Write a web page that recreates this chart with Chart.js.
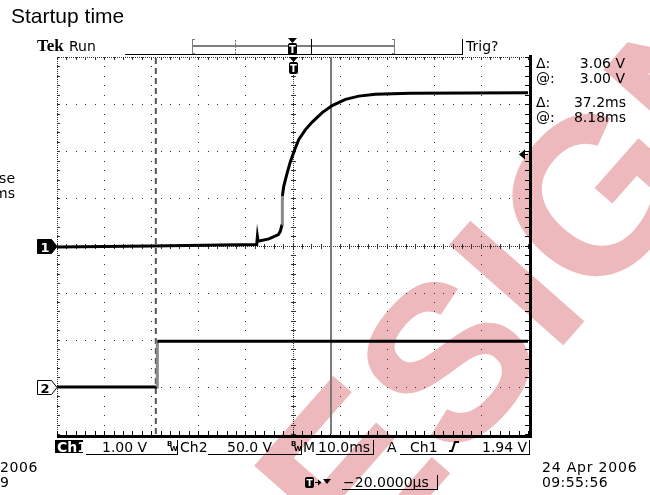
<!DOCTYPE html>
<html>
<head>
<meta charset="utf-8">
<script src="https://cdn.jsdelivr.net/npm/chart.js@4.4.0/dist/chart.umd.min.js"></script>
<style>
body{margin:0;background:#fff}
#wrap{width:650px;height:495px}
</style>
</head>
<body>
<div id="wrap"><canvas id="scope" width="650" height="495"></canvas></div>
<script>
// time in ms (trigger at 0), 10 ms/div
const ch1Time  = [-50, -30, -7.6, -7.45, -7.3, -5.0, -3.0, -2.6, -2.2, -2.15, -1.85, -1.13, -0.42, 0.49, 1.34, 2.76, 4.18, 6.31, 8.43, 11.25, 14.08, 17.6, 25, 50]
const ch1Volts = [-0.03, -0.01, 0.02, 0.19, 0.09, 0.14, 0.23, 0.30, 0.45, 1.05, 1.26, 1.54, 1.79, 2.04, 2.25, 2.46, 2.62, 2.82, 2.97, 3.10, 3.17, 3.21, 3.23, 3.24]
const ch2Time  = [-50, -28.75, -28.7, 50]
const ch2Volts = [0, 0, 48.3, 48.3]

const voltsPerDiv = [1.0, 50.0]   // Ch1, Ch2
const groundDiv = [0, -3]          // ground marker position in divisions
const cursorTimes = [-29.02, 8.18]
const triggerLevel = 1.94

const toDiv = (v, ch) => v / voltsPerDiv[ch] + groundDiv[ch]
const pts = (ts, vs, ch) => ts.map((t, i) => ({x: t, y: toDiv(vs[i], ch)}))

// fast edges show up lighter on the scope
const steep = c => {
    const dx = Math.abs(c.p1.x - c.p0.x), dy = Math.abs(c.p1.y - c.p0.y)
    return (dy > dx * 6 && dy > 12) ? '#8a8a8a' : undefined
}

const watermark = {
    id: 'watermark',
    beforeDraw(chart) {
        const ctx = chart.ctx
        ctx.save()
        ctx.fillStyle = '#fff'
        ctx.fillRect(0, 0, chart.width, chart.height)
        ctx.translate(253, 697)
        ctx.rotate(-48.6 * Math.PI / 180)
        ctx.font = 'bold 221px "Liberation Sans"'
        ctx.fillStyle = '#edb9bc'
        ctx.textBaseline = 'alphabetic'
        ctx.fillText('DESIGN', 0, 0)
        ctx.restore()
    }
}

const graticule = {
    id: 'graticule',
    beforeDatasetsDraw(chart) {
        const {ctx, scales: {x, y}} = chart
        const X = v => Math.round(x.getPixelForValue(v))
        const Y = v => Math.round(y.getPixelForValue(v))
        ctx.save()
        ctx.fillStyle = '#333'
        // interior division lines, dots every 1/5 div
        for (let i = -4; i <= 4; i++) {
            if (i === 0) continue
            const px = X(i * 10)
            for (let j = 0; j <= 40; j++) ctx.fillRect(px, Y(-4 + j * 0.2), 1, 1)
        }
        for (let i = -3; i <= 3; i++) {
            if (i === 0) continue
            const py = Y(i)
            for (let j = 0; j <= 50; j++) ctx.fillRect(X(-50 + j * 2), py, 1, 1)
        }
        // centre axes, fine dots + ticks
        const cx = X(0), cy = Y(0)
        for (let p = Y(4); p <= Y(-4); p += 2) ctx.fillRect(cx, p, 1, 1)
        for (let p = X(-50); p <= X(50); p += 2) ctx.fillRect(p, cy, 1, 1)
        for (let j = 0; j <= 40; j++) ctx.fillRect(cx - 2, Y(-4 + j * 0.2), 5, 1)
        for (let j = 0; j <= 50; j++) ctx.fillRect(X(-50 + j * 2), cy - 2, 1, 5)
        // top + left edges dotted with inward ticks
        const top = Y(4), left = X(-50), right = X(50), bot = Y(-4)
        for (let p = left; p <= right; p += 2) ctx.fillRect(p, top, 1, 1)
        for (let p = top; p <= bot; p += 2) ctx.fillRect(left, p, 1, 1)
        for (let j = 0; j <= 50; j++) ctx.fillRect(X(-50 + j * 2), top, 1, 3)
        for (let j = 0; j <= 40; j++) ctx.fillRect(left, Y(-4 + j * 0.2), 3, 1)
        // bottom + right edges solid
        ctx.fillStyle = '#000'
        ctx.fillRect(left, bot + 1, right - left + 3, 3)
        ctx.fillRect(right + 1, top - 2, 3, bot - top + 6)
        for (let j = 0; j <= 50; j++) ctx.fillRect(X(-50 + j * 2), bot - 3, 1, 4)
        for (let j = 0; j <= 40; j++) ctx.fillRect(right - 3, Y(-4 + j * 0.2), 4, 1)
        ctx.restore()
    }
}

function txt(ctx, s, x, y, font, align, color, spacing) {
    ctx.font = font
    ctx.textAlign = align || 'left'
    ctx.fillStyle = color || '#000'
    ctx.letterSpacing = spacing || '0px'
    ctx.fillText(s, x, y)
}

function tMarker(ctx, cx, top) {
    ctx.fillStyle = '#000'
    ctx.beginPath()
    ctx.moveTo(cx - 4, top); ctx.lineTo(cx + 5, top); ctx.lineTo(cx + 0.5, top + 5); ctx.closePath()
    ctx.fill()
    ctx.beginPath()
    ctx.roundRect(cx - 4, top + 5, 9, 12, 2)
    ctx.fill()
    txt(ctx, 'T', cx + 0.5, top + 15, 'bold 10px "DejaVu Sans"', 'center', '#fff')
}

function chMarker(ctx, py, label, filled) {
    ctx.beginPath()
    ctx.moveTo(37.5, py - 7); ctx.lineTo(51.5, py - 7); ctx.lineTo(57, py); ctx.lineTo(51.5, py + 7); ctx.lineTo(37.5, py + 7); ctx.closePath()
    ctx.fillStyle = filled ? '#000' : '#fff'
    ctx.fill()
    ctx.strokeStyle = '#000'
    ctx.lineWidth = 1
    ctx.stroke()
    txt(ctx, label, 45, py + 5, 'bold 13px "DejaVu Sans"', 'center', filled ? '#fff' : '#000')
}

function field(ctx, x0, x1, yLine, barTop) {
    ctx.fillStyle = '#000'
    ctx.fillRect(x0, yLine, x1 - x0, 1)
    ctx.fillRect(x1, barTop, 1, yLine - barTop + 1)
}

function bw(ctx, x0) {
    txt(ctx, 'B', x0, 446, 'bold 7px "DejaVu Sans"')
    txt(ctx, 'W', x0 + 3, 451, 'bold 7px "DejaVu Sans"')
}

const overlay = {
    id: 'overlay',
    afterDraw(chart) {
        const {ctx, scales: {x, y}} = chart
        const F = '14px "DejaVu Sans"'
        ctx.save()
        txt(ctx, 'Startup time', 11, 23, '21px "Liberation Sans"')
        // header
        txt(ctx, 'Tek', 37, 51, 'bold 17px "Liberation Serif"')
        txt(ctx, 'Run', 69, 51, F)
        ctx.fillStyle = '#000'
        ctx.fillRect(125, 54, 338, 1)
        ctx.fillRect(462, 39, 1, 16)
        ctx.fillStyle = '#7d7d7d'
        ctx.fillRect(193, 45, 201, 2)
        ctx.fillRect(192, 39, 1, 15); ctx.fillRect(192, 39, 3, 1); ctx.fillRect(192, 53, 3, 1)
        ctx.fillRect(394, 39, 1, 15); ctx.fillRect(392, 39, 3, 1); ctx.fillRect(392, 53, 3, 1)
        for (let p = 40; p < 53; p += 3) ctx.fillRect(235, p, 1, 2)
        ctx.fillStyle = '#000'
        ctx.fillRect(311, 39, 1, 15)
        tMarker(ctx, 292, 38)
        txt(ctx, 'Trig?', 466, 51, F)
        tMarker(ctx, Math.round(x.getPixelForValue(0)), 57)

        // readouts
        txt(ctx, 'Δ:', 536, 68, F)
        txt(ctx, '@:', 536, 83, F)
        txt(ctx, '3.06 V', 625, 68, F, 'right')
        txt(ctx, '3.00 V', 625, 83, F, 'right')
        txt(ctx, 'Δ:', 536, 107, F)
        txt(ctx, '@:', 536, 122, F)
        txt(ctx, '37.2ms', 626, 107, F, 'right')
        txt(ctx, '8.18ms', 626, 122, F, 'right')

        // trigger level arrow
        const ty = Math.round(y.getPixelForValue(toDiv(triggerLevel, 0)))
        ctx.fillStyle = '#000'
        ctx.beginPath(); ctx.moveTo(519, ty + 0.5); ctx.lineTo(525, ty - 4.5); ctx.lineTo(525, ty + 5.5); ctx.closePath(); ctx.fill()
        ctx.fillRect(524, ty, 4, 1)

        // channel ground markers
        chMarker(ctx, Math.round(y.getPixelForValue(groundDiv[0])) + 0.5, '1', true)
        chMarker(ctx, Math.round(y.getPixelForValue(groundDiv[1])) + 0.5, '2', false)

        // cut-off side text
        txt(ctx, 'se', 15, 183, F, 'right')
        txt(ctx, 'ms', 15, 198, F, 'right')

        // status line
        ctx.fillStyle = '#000'
        ctx.fillRect(55, 440, 28, 13)
        txt(ctx, 'Ch1', 57, 452, 'bold 14px "DejaVu Sans"', 'left', '#fff')
        txt(ctx, '1.00 V', 102, 452, F)
        field(ctx, 86, 177, 454, 440)
        bw(ctx, 167)
        txt(ctx, 'Ch2', 180, 452, F)
        txt(ctx, '50.0 V', 227, 452, F)
        field(ctx, 208, 301, 454, 440)
        bw(ctx, 291)
        txt(ctx, 'M', 303, 452, F)
        txt(ctx, '10.0ms', 318, 452, F)
        field(ctx, 316, 373, 454, 440)
        txt(ctx, 'A', 387, 452, F)
        txt(ctx, 'Ch1', 410, 452, F)
        ctx.strokeStyle = '#000'; ctx.lineWidth = 2
        ctx.beginPath(); ctx.moveTo(449, 451); ctx.lineTo(452, 451); ctx.lineTo(455, 442); ctx.lineTo(459, 442); ctx.stroke()
        txt(ctx, '1.94 V', 482, 452, F)
        field(ctx, 400, 529, 454, 440)

        // second status line
        ctx.fillStyle = '#000'
        ctx.beginPath(); ctx.roundRect(305, 477, 9, 11, 2); ctx.fill()
        txt(ctx, 'T', 309.5, 486, 'bold 9px "DejaVu Sans"', 'center', '#fff')
        ctx.fillStyle = '#000'
        ctx.fillRect(315, 482, 4, 1)
        ctx.beginPath(); ctx.moveTo(318, 479.5); ctx.lineTo(321.5, 482.5); ctx.lineTo(318, 485.5); ctx.closePath(); ctx.fill()
        ctx.beginPath(); ctx.moveTo(323, 479); ctx.lineTo(331, 479); ctx.lineTo(327, 484); ctx.closePath(); ctx.fill()
        txt(ctx, '\u221220.0000\u00b5s', 343, 487, F)
        field(ctx, 342, 437, 489, 475)

        txt(ctx, '2006', 0, 472, F, 'left', '#000', '0.6px')
        txt(ctx, '9', 0, 487, F)
        txt(ctx, '24 Apr 2006', 542, 472, F, 'left', '#000', '0.8px')
        txt(ctx, '09:55:56', 542, 487, F, 'left', '#000', '0.4px')
        ctx.restore()
    }
}

const cursorPts = t => [{x: t, y: -4}, {x: t, y: 4}]

const ctx = document.getElementById('scope').getContext('2d')
const chart = new Chart(ctx, {
    type: 'scatter',
    data: {
        datasets: [
            {data: pts(ch1Time, ch1Volts, 0), showLine: true, borderColor: '#000', borderWidth: 3, pointRadius: 0,
             segment: {borderColor: steep}},
            {data: pts(ch2Time, ch2Volts, 1), showLine: true, borderColor: '#000', borderWidth: 3, pointRadius: 0,
             segment: {borderColor: steep}},
            {data: cursorPts(cursorTimes[0]), showLine: true, borderColor: '#555', borderWidth: 2, borderDash: [6, 4], pointRadius: 0},
            {data: cursorPts(cursorTimes[1]), showLine: true, borderColor: '#7a7a7a', borderWidth: 2, pointRadius: 0}
        ]
    },
    options: {
        responsive: false,
        animation: false,
        layout: {padding: {left: 57, right: 122, top: 57, bottom: 61}},
        scales: {
            x: {type: 'linear', min: -50, max: 50, display: false},
            y: {type: 'linear', min: -4, max: 4, display: false}
        },
        plugins: {legend: {display: false}, tooltip: {enabled: false}},
        elements: {line: {tension: 0, borderCapStyle: 'butt'}}
    },
    plugins: [watermark, graticule, overlay]
})
</script>
</body>
</html>
